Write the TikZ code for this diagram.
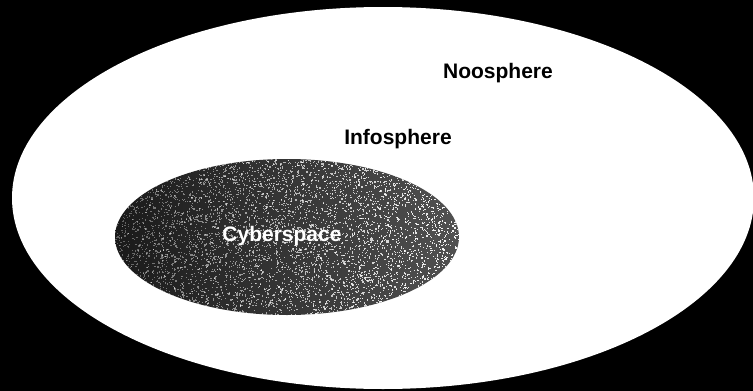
\documentclass[tikz,border=0pt]{standalone}
\usepackage{fontspec}
\setmainfont{Liberation Sans}
\begin{document}
\begin{tikzpicture}[x=1pt,y=-1pt,
  label/.style={font=\fontsize{21}{24}\selectfont\bfseries, inner sep=0pt},
  grain/.style={fill=white}]
  % black page
  \fill[black] (0,0) rectangle (753,391);
  \useasboundingbox (0,0) rectangle (753,391);
  % outer ellipse: the noosphere
  \fill[white] (383,198) ellipse [x radius=371, y radius=191];
  % inner ellipse: cyberspace, dark and grainy
  \begin{scope}
    \clip (287,237) ellipse [x radius=172, y radius=78];
    \shade[left color=black!90, right color=black!68] (115,159) rectangle (459,315);
    \pgfmathsetseed{7}
    \foreach \i in {1,...,6000}{
      \pgfmathsetmacro{\px}{115+344*rnd}
      \pgfmathsetmacro{\py}{159+156*rnd}
      \pgfmathsetmacro{\op}{0.3+0.65*(\px-115)/344}
      \fill[grain, opacity=\op] (\px,\py) rectangle ++(1.2,1.2);
    }
  \end{scope}
  \node[label] (noo) at (498,73) {Noosphere};
  \node[label] (info) at (398,139) {Infosphere};
  \node[label, text=white] (cyber) at (282,236) {Cyberspace};
\end{tikzpicture}
\end{document}
